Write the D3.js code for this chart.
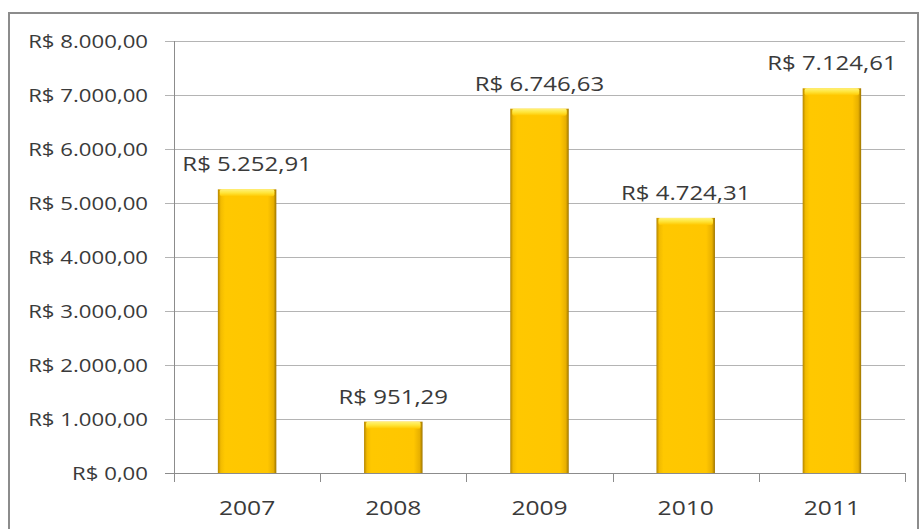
<!DOCTYPE html>
<html>
<head>
<meta charset="utf-8">
<script src="https://cdn.jsdelivr.net/npm/d3@7"></script>
<style>
  html, body { margin: 0; padding: 0; background: #fff; }
  svg { display: block; }
  text { font-family: "Open Sans", Lato, sans-serif; fill: #3a3a3a; }
</style>
</head>
<body>
<svg id="chart" width="919" height="529"></svg>
<script>
// Annual totals in reais
const years = ["2007", "2008", "2009", "2010", "2011"];
const values = [5252.91, 951.29, 6746.63, 4724.31, 7124.61];
const yTicks = [0, 1000, 2000, 3000, 4000, 5000, 6000, 7000, 8000];

const ptBR = d3.formatLocale({ decimal: ",", thousands: ".", grouping: [3], currency: ["R$", ""] });
const brl = v => "R$ " + ptBR.format(",.2f")(v);

const svg = d3.select("#chart");
const W = 919, H = 529;
const m = { left: 174, right: 14, top: 41, bottom: 56 };

// labels are set in a slightly widened face
const place = (px, py, sx) => `translate(${px},${py}) scale(${sx},1)`;

// outer frame
svg.append("rect")
  .attr("x", 9).attr("y", 13)
  .attr("width", W - 10).attr("height", H)
  .attr("fill", "#fff").attr("stroke", "#8c8c8c").attr("stroke-width", 2);

const x = d3.scaleBand().domain(years)
  .range([m.left, W - m.right]).paddingInner(0.6).paddingOuter(0.3);
const y = d3.scaleLinear().domain([0, 8000]).range([H - m.bottom, m.top]);

// gradients
const defs = svg.append("defs");
const bodyGrad = defs.append("linearGradient").attr("id", "barBody")
  .attr("x1", "0").attr("x2", "1").attr("y1", "0").attr("y2", "0");
[["0%", "#b58600"], ["5%", "#f2bb00"], ["12%", "#ffc800"], ["85%", "#ffc600"], ["95%", "#e8b000"], ["100%", "#9c7400"]]
  .forEach(([o, c]) => bodyGrad.append("stop").attr("offset", o).attr("stop-color", c));
const capGrad = defs.append("linearGradient").attr("id", "barTop")
  .attr("x1", "0").attr("x2", "0").attr("y1", "0").attr("y2", "1");
[["0%", "#fff27a"], ["50%", "#ffe53a"], ["100%", "#ffc800"]]
  .forEach(([o, c]) => capGrad.append("stop").attr("offset", o).attr("stop-color", c));

// gridlines
svg.append("g").selectAll("line").data(yTicks).join("line")
  .attr("x1", m.left - 9).attr("x2", W - m.right)
  .attr("y1", d => Math.round(y(d)) + 0.5).attr("y2", d => Math.round(y(d)) + 0.5)
  .attr("stroke", d => d === 0 ? "#8c8c8c" : "#b4b4b4").attr("stroke-width", 1);

// y axis line
svg.append("line")
  .attr("x1", m.left + 0.5).attr("x2", m.left + 0.5)
  .attr("y1", y(8000)).attr("y2", y(0) + 9)
  .attr("stroke", "#8c8c8c");

// category ticks
svg.append("g").selectAll("line").data(years.map((d, i) => i + 1)).join("line")
  .attr("x1", i => Math.round(m.left + i * (W - m.right - m.left) / years.length) + 0.5)
  .attr("x2", i => Math.round(m.left + i * (W - m.right - m.left) / years.length) + 0.5)
  .attr("y1", y(0)).attr("y2", y(0) + 9)
  .attr("stroke", "#8c8c8c");

// y tick labels
svg.append("g").selectAll("text").data(yTicks).join("text")
  .attr("transform", d => place(148, y(d) + 6.5, 1.2))
  .attr("text-anchor", "end").attr("font-size", 18.5)
  .text(brl);

// bars
const bars = svg.append("g").selectAll("g").data(values).join("g");
bars.append("rect")
  .attr("x", (d, i) => x(years[i])).attr("y", d => y(d))
  .attr("width", x.bandwidth()).attr("height", d => y(0) - y(d))
  .attr("fill", "url(#barBody)");
bars.append("rect")
  .attr("x", (d, i) => x(years[i]) + 2).attr("y", d => y(d))
  .attr("width", x.bandwidth() - 4).attr("height", 7)
  .attr("rx", 2)
  .attr("fill", "url(#barTop)");

// value labels
bars.append("text")
  .attr("transform", (d, i) => place(x(years[i]) + x.bandwidth() / 2, y(d) - 18, 1.17))
  .attr("text-anchor", "middle").attr("font-size", 20.5)
  .text(brl);

// category labels
svg.append("g").selectAll("text").data(years).join("text")
  .attr("transform", d => place(x(d) + x.bandwidth() / 2, 515, 1.2))
  .attr("text-anchor", "middle").attr("font-size", 20.5)
  .text(d => d);
</script>
</body>
</html>
